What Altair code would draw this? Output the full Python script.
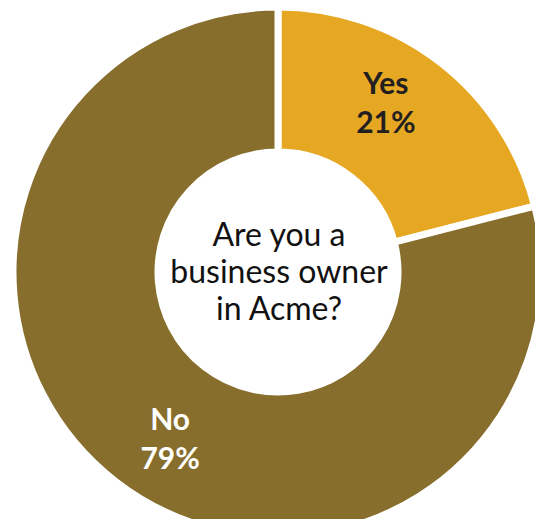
import altair as alt
import pandas as pd

categories = ["Yes", "No"]
percents = [21, 79]
slice_colors = ["#E6A823", "#876E2D"]
label_colors = ["#231F20", "#FFFFFF"]
center_question = "Are you a\nbusiness owner\nin Acme?"

df = pd.DataFrame({
    "answer": categories,
    "pct": percents,
    "order": list(range(len(categories))),
    "label": [f"{c}\n{p}%" for c, p in zip(categories, percents)],
})

CX, CY = 270, 264
FONT = "Lato"

base = alt.Chart(df).encode(
    theta=alt.Theta("pct:Q", stack=True),
    order=alt.Order("order:O"),
)

arcs = base.mark_arc(outerRadius=265, innerRadius=120, stroke="white", strokeWidth=7).encode(
    color=alt.Color("answer:N", scale=alt.Scale(domain=categories, range=slice_colors), legend=None),
    x=alt.value(CX), y=alt.value(CY),
)

labels = base.mark_text(
    radius=200, thetaOffset=-0.09, font=FONT, fontSize=30, fontWeight="bold",
    lineBreak="\n", lineHeight=39, align="center", baseline="middle", dy=-19,
).encode(
    text="label:N",
    color=alt.Color("answer:N", scale=alt.Scale(domain=categories, range=label_colors), legend=None),
    x=alt.value(CX), y=alt.value(CY),
)

center = alt.Chart(pd.DataFrame({"q": [center_question]})).mark_text(
    font=FONT, fontSize=32, lineBreak="\n", lineHeight=37, color="#111111",
    align="center", baseline="middle", dy=-36,
).encode(text="q:N", x=alt.value(CX + 1), y=alt.value(CY))

chart = alt.layer(arcs, labels, center).resolve_scale(color="independent").properties(
    width=527, height=511, padding=0, autosize="none"
).configure_view(stroke=None)

chart.save("out.html", embed_options={"renderer": "svg", "actions": False})
